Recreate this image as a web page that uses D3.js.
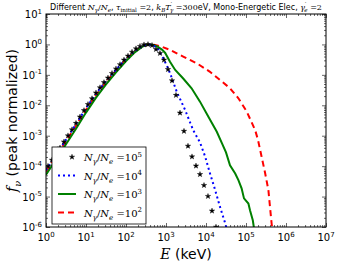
<!DOCTYPE html>
<html><head><meta charset="utf-8">
<script src="https://cdn.jsdelivr.net/npm/d3@7"></script>
<style>body{margin:0;background:#fff}svg{display:block}</style>
</head><body><svg id="c" width="340" height="266"></svg>
<script>
// ---------- data (E in keV, f peak-normalized) ----------
const starE = [1.122,1.413,1.778,2.239,2.818,3.548,4.467,5.623,7.079,8.913,11.22,14.13,17.78,22.39,28.18,35.48,44.67,56.23,70.79,89.13,112.2,141.3,177.8,223.9,281.8,354.8,446.7,562.3,707.9,891.3,1122,1413,1778,2239,2818,3548,4467,5623,7079,8913,11220,14130,17780];
const starF = [1.0e-4,1.585e-4,2.512e-4,3.981e-4,6.310e-4,1.0e-3,1.585e-3,2.570e-3,4.169e-3,6.761e-3,1.072e-2,1.660e-2,2.570e-2,3.802e-2,5.623e-2,7.943e-2,0.1122,0.1585,0.2188,0.3090,0.4169,0.5623,0.7244,0.8710,0.9772,1.0,0.9333,0.6918,0.5129,0.3090,0.1514,6.457e-2,2.138e-2,5.623e-3,1.413e-3,4.571e-4,2.042e-4,1.023e-4,5.370e-5,2.344e-5,1.023e-5,3.388e-6,1.0e-6];

const blueE = [1,1.778,3.162,5.623,10,17.78,31.62,56.23,100,158.5,251.2,354.8,446.7,602.6,851.1,1122,1318,1862,3020,4786,7079,9550,12590,16980,22390,30200,35480];
const blueF = [7.413e-5,2.344e-4,7.413e-4,2.399e-3,7.943e-3,2.399e-2,6.310e-2,0.1479,0.3388,0.6026,0.8913,1.0,0.9550,0.7943,0.3548,0.1660,9.772e-2,2.754e-2,6.918e-3,1.514e-3,6.026e-4,2.042e-4,5.754e-5,1.622e-5,4.571e-6,1.318e-6,6.310e-7];

const greenE = [1,1.778,3.162,5.623,10,17.78,31.62,56.23,100,158.5,251.2,354.8,446.7,588.8,794.3,955.0,1259,1698,2692,4365,7079,11480,18620,25120,31620,39810,53700,64570,77620,89130,114800,125900,147900,169800];
const greenF = [5.248e-5,1.660e-4,5.248e-4,1.698e-3,5.754e-3,1.778e-2,4.898e-2,0.1202,0.2818,0.5248,0.8318,1.0,0.9772,0.8710,0.6761,0.5248,0.2692,0.1445,7.586e-2,3.631e-2,1.318e-2,4.169e-3,1.349e-3,5.623e-4,2.818e-4,1.072e-4,5.754e-5,3.467e-5,1.862e-5,8.710e-6,5.888e-6,3.548e-6,1.660e-6,5.012e-7];

const redE = [1,1.778,3.162,5.623,10,17.78,31.62,56.23,100,158.5,251.2,354.8,446.7,537.0,794.3,1259,2692,5888,12590,22390,39810,64570,104700,169800,199500,245500,302000,363100,398100,436500,478600];
const redF = [6.607e-5,2.089e-4,6.607e-4,2.138e-3,7.079e-3,2.138e-2,5.754e-2,0.1380,0.3162,0.5623,0.8511,0.9772,1.0,0.9550,0.8318,0.6607,0.3981,0.2399,0.1259,6.761e-2,3.631e-2,1.698e-2,6.166e-3,1.514e-3,7.244e-4,2.042e-4,5.754e-5,1.622e-5,4.571e-6,1.318e-6,5.012e-7];

const legendExp = ["5","4","3","2"];
const xTickExp = [0,1,2,3,4,5,6,7];
const yTickExp = [-6,-5,-4,-3,-2,-1,0,1];

// ---------- layout ----------
const L=46, R=326, T=14, B=227;
const svg = d3.select("#c");
const x = d3.scaleLog().domain([1,1e7]).range([L,R]);
const y = d3.scaleLog().domain([1e-6,10]).range([B,T]);
const SERIF = "'DejaVu Serif', serif";
const SANS = "'DejaVu Sans', sans-serif";

svg.append("defs").append("clipPath").attr("id","clip")
  .append("rect").attr("x",L).attr("y",T).attr("width",R-L).attr("height",B-T);

// rich text helper
function rich(g, segs, base){
  const t = g.append("text");
  let cur = 0;
  segs.forEach(s=>{
    const off = s.sub ? base*0.3 : s.sup ? -base*0.45 : 0;
    const ts = t.append("tspan").text(s.t)
      .attr("font-family", s.f==="sans"?SANS:SERIF)
      .attr("font-style", s.it?"italic":"normal")
      .attr("font-size", (s.sub||s.sup)? base*0.7 : base);
    if (off!==cur){ ts.attr("dy", off-cur); cur=off; }
    if (s.dx) ts.attr("dx", s.dx);
  });
  return t;
}

// ---------- ticks ----------
const majX = xTickExp.map(e=>Math.pow(10,e));
const majY = yTickExp.map(e=>Math.pow(10,e));
const allX = x.ticks(), allY = y.ticks();
const isMaj = v => Math.abs(Math.log10(v)-Math.round(Math.log10(v)))<1e-9;
const minX = allX.filter(v=>!isMaj(v)), minY = allY.filter(v=>!isMaj(v));

function tickAxis(axisFn, scale, vals, size, transform){
  const g = svg.append("g").attr("transform",transform)
    .call(axisFn(scale).tickValues(vals).tickSize(size).tickFormat(""));
  g.select(".domain").remove();
  g.selectAll("line").attr("stroke","#000").attr("stroke-width",0.6);
}
tickAxis(d3.axisBottom, x, majX, -4, `translate(0,${B})`);
tickAxis(d3.axisBottom, x, minX, -2, `translate(0,${B})`);
tickAxis(d3.axisTop, x, majX, -4, `translate(0,${T})`);
tickAxis(d3.axisTop, x, minX, -2, `translate(0,${T})`);
tickAxis(d3.axisLeft, y, majY, -4, `translate(${L},0)`);
tickAxis(d3.axisLeft, y, minY, -2, `translate(${L},0)`);
tickAxis(d3.axisRight, y, majY, -4, `translate(${R},0)`);
tickAxis(d3.axisRight, y, minY, -2, `translate(${R},0)`);

// ---------- curves ----------
const plot = svg.append("g").attr("clip-path","url(#clip)");
const line = d3.line().x(d=>x(d[0])).y(d=>y(d[1]));
function series(E,F){ return E.map((e,i)=>[e,F[i]]); }

plot.append("path").datum(series(redE,redF)).attr("d",line)
  .attr("fill","none").attr("stroke","#ff0000").attr("stroke-width",2).attr("stroke-dasharray","6,4");
plot.append("path").datum(series(greenE,greenF)).attr("d",line)
  .attr("fill","none").attr("stroke","#008000").attr("stroke-width",2);
plot.append("path").datum(series(blueE,blueF)).attr("d",line)
  .attr("fill","none").attr("stroke","#0000ff").attr("stroke-width",2).attr("stroke-dasharray","2,3");
const star = d3.symbol().type(d3.symbolStar).size(9);
plot.selectAll("path.st").data(series(starE,starF)).join("path").attr("class","st")
  .attr("d",star).attr("transform",d=>`translate(${x(d[0])},${y(d[1])})`).attr("fill","#000")
  .attr("stroke","#000").attr("stroke-width",0.4);

// frame
svg.append("rect").attr("x",L).attr("y",T).attr("width",R-L).attr("height",B-T)
  .attr("fill","none").attr("stroke","#000").attr("stroke-width",1);

// ---------- tick labels ----------
const tl = svg.append("g");
xTickExp.forEach(e=>{
  const t = rich(tl,[{t:"10",f:"sans"},{t:String(e),f:"sans",sup:true}],10);
  t.attr("x",x(Math.pow(10,e))).attr("y",B+14).attr("text-anchor","middle");
});
yTickExp.forEach(e=>{
  const t = rich(tl,[{t:"10",f:"sans"},{t:String(e),f:"sans",sup:true}],10);
  t.attr("x",L-4).attr("y",y(Math.pow(10,e))+4).attr("text-anchor","end");
});

// ---------- axis labels ----------
rich(svg,[{t:"E",it:true},{t:" (keV)",f:"sans"}],14)
  .attr("x",(L+R)/2).attr("y",259).attr("text-anchor","middle");
rich(svg,[{t:"f",it:true},{t:"ν",it:true,sub:true},{t:" (peak normalized)",f:"sans"}],14)
  .attr("text-anchor","middle").attr("transform",`translate(17,${(T+B)/2}) rotate(-90)`);

// ---------- title ----------
rich(svg,[
  {t:"Different ",f:"sans"},
  {t:"N",it:true},{t:"γ",it:true,sub:true},{t:"/",},{t:"N",it:true},{t:"e",it:true,sub:true},
  {t:", ",f:"sans"},
  {t:"τ",it:true},{t:"initial",sub:true},{t:" =2"},
  {t:", ",f:"sans"},
  {t:"k",it:true},{t:"B",it:true,sub:true},{t:"T",it:true},{t:"′",sup:true},{t:"γ",it:true,sub:true,dx:-2},{t:" =300"},{t:"eV, Mono-Energetic Elec, ",f:"sans"},
  {t:"γ",it:true},{t:"′",sup:true},{t:"e",it:true,sub:true,dx:-2},{t:" =2"}
],8).attr("x",(L+R)/2).attr("y",10).attr("text-anchor","middle");

// ---------- legend ----------
const lg = svg.append("g");
lg.append("rect").attr("x",52).attr("y",147).attr("width",94).attr("height",77)
  .attr("fill","#fff").attr("stroke","#000").attr("stroke-width",0.8);
const rows=[157,175.5,194,212.5];
const styles=[
  null,
  {c:"#0000ff",d:"2,3"},
  {c:"#008000",d:null},
  {c:"#ff0000",d:"6,4"}
];
rows.forEach((ry,i)=>{
  if(i===0){
    lg.append("path").attr("d",star).attr("transform",`translate(72,${ry})`).attr("fill","#000")
      .attr("stroke","#000").attr("stroke-width",0.4);
  } else {
    const p = lg.append("line").attr("x1",58).attr("x2",76).attr("y1",ry).attr("y2",ry)
      .attr("stroke",styles[i].c).attr("stroke-width",2);
    if(styles[i].d) p.attr("stroke-dasharray",styles[i].d);
  }
  rich(lg,[{t:"N",it:true},{t:"γ",it:true,sub:true},{t:"/"},{t:"N",it:true},{t:"e",it:true,sub:true},{t:" =10"},{t:legendExp[i],sup:true}],10)
    .attr("x",84).attr("y",ry+4);
});
</script></body></html>
